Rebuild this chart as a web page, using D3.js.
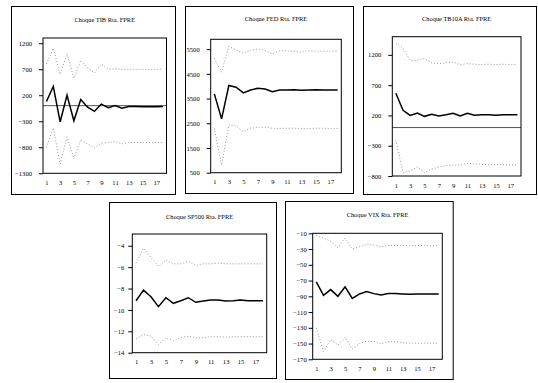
<!DOCTYPE html>
<html>
<head>
<meta charset="utf-8">
<script src="https://cdn.jsdelivr.net/npm/d3@7"></script>
<style>
  body { margin: 0; background: #fff; }
  svg text { font-family: "Liberation Serif", "DejaVu Serif", serif; fill: #000; }
</style>
</head>
<body>
<div id="chart"></div>
<script>
// periods on the x axis
const periods = [1, 2, 3, 4, 5, 6, 7, 8, 9, 10, 11, 12, 13, 14, 15, 16, 17, 18];
const periodLabels = [1, 3, 5, 7, 9, 11, 13, 15, 17];

// TIB shock
const tibMid = [80, 370, -310, 200, -290, 120, -30, -110, 30, -40, 0, -50, -15, -15, -20, -20, -20, -15];
const tibUp = [800, 1100, 600, 1000, 530, 870, 730, 630, 800, 700, 710, 690, 700, 690, 700, 695, 700, 700];
const tibLo = [-800, -430, -1120, -600, -1020, -650, -740, -810, -720, -710, -690, -735, -710, -705, -710, -710, -712, -710];
const tibTicks = [-1300, -800, -300, 200, 700, 1200];

// FED shock
const fedMid = [3690, 2680, 4030, 3960, 3730, 3850, 3920, 3890, 3780, 3850, 3850, 3860, 3840, 3850, 3860, 3850, 3850, 3850];
const fedUp = [5140, 4570, 5610, 5470, 5340, 5450, 5510, 5450, 5310, 5430, 5430, 5400, 5380, 5440, 5420, 5420, 5420, 5430];
const fedLo = [2300, 810, 2430, 2390, 2160, 2300, 2340, 2340, 2300, 2290, 2300, 2300, 2290, 2280, 2300, 2300, 2290, 2290];
const fedTicks = [500, 1500, 2500, 3500, 4500, 5500];

// TB10A shock
const tbMid = [565, 285, 200, 240, 185, 220, 190, 210, 235, 190, 235, 205, 210, 210, 205, 210, 210, 210];
const tbUp = [1390, 1310, 1110, 1110, 1140, 1070, 1055, 1070, 1080, 1040, 1055, 1045, 1040, 1045, 1040, 1045, 1040, 1040];
const tbLo = [-210, -745, -715, -650, -745, -690, -650, -630, -620, -620, -590, -600, -605, -615, -610, -615, -615, -615];
const tbTicks = [-800, -300, 200, 700, 1200];

// SP500 shock
const spMid = [-9.14, -8.15, -8.77, -9.69, -8.86, -9.38, -9.14, -8.86, -9.29, -9.17, -9.08, -9.08, -9.17, -9.14, -9.08, -9.14, -9.14, -9.14];
const spUp = [-5.63, -4.22, -5.08, -5.94, -5.32, -5.69, -5.69, -5.45, -5.85, -5.69, -5.69, -5.63, -5.69, -5.69, -5.69, -5.69, -5.69, -5.69];
const spLo = [-12.7, -12.3, -12.46, -13.23, -12.6, -12.9, -12.6, -12.46, -12.6, -12.6, -12.5, -12.5, -12.55, -12.5, -12.5, -12.5, -12.5, -12.5];
const spTicks = [-14, -12, -10, -8, -6, -4];

// VIX shock
const vixMid = [-71.7, -88.7, -81.5, -90, -78, -92.6, -87, -84, -86.6, -88.3, -86.6, -86.6, -87, -87.5, -87, -87, -87, -87];
const vixUp = [-12.8, -16, -20, -28, -16, -30, -27, -24, -25, -27, -25.5, -25.5, -25.5, -26, -25.5, -25.5, -26, -25.5];
const vixLo = [-130, -160, -145, -152, -142, -157, -150, -147, -147.5, -150.4, -147.5, -147.5, -149, -149.5, -149.5, -149.5, -149.5, -149.5];
const vixTicks = [-170, -150, -130, -110, -90, -70, -50, -30, -10];

const panels = [
    { title: "Choque TIB Rta. FPRE", mid: tibMid, up: tibUp, lo: tibLo, ticks: tibTicks, domain: [-1300, 1300], zero: true,
      frame: [11, 6, 175, 194], plot: [43, 38, 166.5, 173.3], titleY: 22, pad: 7 },
    { title: "Choque FED Rta. FPRE", mid: fedMid, up: fedUp, lo: fedLo, ticks: fedTicks, domain: [500, 5900], zero: false,
      frame: [185, 6, 353, 193], plot: [210.7, 39.3, 341.3, 172.7], titleY: 21, pad: 7 },
    { title: "Choque TB10A Rta. FPRE", mid: tbMid, up: tbUp, lo: tbLo, ticks: tbTicks, domain: [-800, 1500], zero: true,
      frame: [363, 6, 536, 194], plot: [392.3, 36.7, 521, 176], titleY: 21, pad: 7 },
    { title: "Choque SP500 Rta. FPRE", mid: spMid, up: spUp, lo: spLo, ticks: spTicks, domain: [-14, -2.9], zero: false,
      frame: [109, 202, 276, 378], plot: [132.3, 234, 266.7, 352.7], titleY: 219, pad: 4 },
    { title: "Choque VIX Rta. FPRE", mid: vixMid, up: vixUp, lo: vixLo, ticks: vixTicks, domain: [-170, -10], zero: false,
      frame: [285, 201, 452.7, 379], plot: [312.7, 233.3, 442.3, 359.3], titleY: 217, pad: 2 }
];

const svg = d3.select("#chart")
    .append("svg")
    .attr("width", 538)
    .attr("height", 383);

panels.forEach(p => {
    const g = svg.append("g");
    const [fx0, fy0, fx1, fy1] = p.frame;
    const [px0, py0, px1, py1] = p.plot;

    // outer frame
    g.append("rect")
        .attr("x", fx0 + 0.5).attr("y", fy0 + 0.5)
        .attr("width", fx1 - fx0).attr("height", fy1 - fy0)
        .attr("fill", "none").attr("stroke", "#000").attr("stroke-width", 1);

    const x = d3.scalePoint()
        .domain(periods)
        .range([px0, px1])
        .padding(0.5);

    const y = d3.scaleLinear()
        .domain(p.domain)
        .range([py1, py0]);

    // title
    g.append("text")
        .attr("x", (px0 + px1) / 2)
        .attr("y", p.titleY)
        .attr("text-anchor", "middle")
        .attr("font-size", "6.4px")
        .text(p.title);

    // zero line
    if (p.zero) {
        g.append("line")
            .attr("x1", px0).attr("x2", px1)
            .attr("y1", y(0)).attr("y2", y(0))
            .attr("stroke", "#555").attr("stroke-width", 1);
    }

    const line = d3.line()
        .x((d, i) => x(periods[i]))
        .y(d => y(d));

    // confidence bands
    [p.up, p.lo].forEach(band => {
        g.append("path")
            .datum(band)
            .attr("d", line)
            .attr("fill", "none")
            .attr("stroke", "#999")
            .attr("stroke-width", 1)
            .attr("stroke-dasharray", "1,2");
    });

    // response
    g.append("path")
        .datum(p.mid)
        .attr("d", line)
        .attr("fill", "none")
        .attr("stroke", "#000")
        .attr("stroke-width", 1.5);

    // plot area box
    g.append("rect")
        .attr("x", px0).attr("y", py0)
        .attr("width", px1 - px0).attr("height", py1 - py0)
        .attr("fill", "none").attr("stroke", "#000").attr("stroke-width", 1);

    // y axis
    const yAxis = g.append("g")
        .attr("transform", `translate(${px0},0)`)
        .call(d3.axisLeft(y).tickValues(p.ticks).tickSize(4).tickPadding(p.pad).tickFormat(d3.format("d")));
    yAxis.select(".domain").remove();
    yAxis.selectAll("text").attr("font-size", "6.6px").attr("font-family", "Liberation Serif");

    // x axis
    const xAxis = g.append("g")
        .attr("transform", `translate(0,${py1})`)
        .call(d3.axisBottom(x).tickValues(periodLabels).tickSize(0).tickPadding(7));
    xAxis.select(".domain").remove();
    xAxis.selectAll("text").attr("font-size", "6.6px").attr("font-family", "Liberation Serif");
});
</script>
</body>
</html>
